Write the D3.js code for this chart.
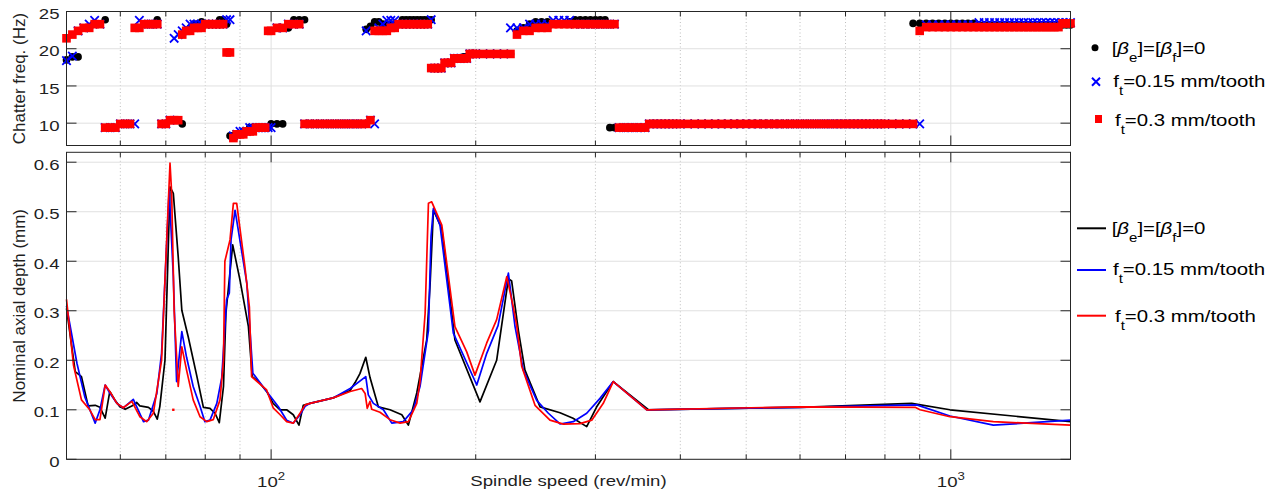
<!DOCTYPE html>
<html>
<head>
<meta charset="utf-8">
<script src="https://cdn.jsdelivr.net/npm/d3@7"></script>
<style>
  body { margin: 0; background: #fff; }
  svg { display: block; font-family: 'Liberation Sans', Arial, sans-serif; }
  .frame .tick line { stroke: #262626; }
  .grid .tick line { stroke: #e0e0e0; }
  .grid.minor .tick line { stroke: #bdbdbd; stroke-dasharray: 1 2.5; }
</style>
</head>
<body>
<div id="root"></div>
<script>
// spindle speed grid (rev/min) for the chatter frequency plot
const speeds = [
  50, 51, 52, 53, 54, 55, 56, 57, 58, 59,
  60, 61, 62, 63, 64, 65, 66, 67, 68, 69,
  70, 71, 72, 73, 74, 75, 76, 77, 78, 79,
  80, 81, 82, 83, 84, 85, 86, 87, 88, 89,
  90, 91, 92, 93, 94, 95, 96, 97, 98, 99,
  100, 102, 104, 106, 108, 110, 112, 114, 116, 118,
  120, 122, 124, 126, 128, 130, 132, 134, 136, 138,
  140, 142, 144, 146, 148, 150, 152, 154, 156, 158,
  160, 162, 164, 166, 168, 170, 172, 174, 176, 178,
  180, 182, 184, 186, 188, 190, 192, 194, 196, 198,
  200, 205, 210, 215, 220, 225, 230, 235, 240, 245,
  250, 255, 260, 265, 270, 275, 280, 285, 290, 295,
  300, 305, 310, 315, 320, 325, 330, 335, 340, 345,
  350, 355, 360, 365, 370, 375, 380, 385, 390, 395,
  400, 410, 420, 430, 440, 450, 460, 470, 480, 490,
  500, 510, 520, 530, 540, 550, 560, 570, 580, 590,
  600, 610, 620, 630, 640, 650, 660, 670, 680, 690,
  700, 710, 720, 730, 740, 750, 760, 770, 780, 790,
  800, 820, 840, 860, 880, 900, 920, 940, 960, 980,
  1000, 1020, 1040, 1060, 1080, 1100, 1120, 1140, 1160, 1180,
  1200, 1220, 1240, 1260, 1280, 1300, 1320, 1340, 1360, 1380,
  1400, 1420, 1440, 1460, 1480, 1500,
];

// chatter frequency (Hz), [βe]=[βf]=0
const freqZero = [
  18.5, 18.9, 18.9, 22.8, 22.8, 23.3, 23.3, 23.9, 9.4, 9.4,
  9.9, 9.9, 9.9, 22.8, 22.8, 23.3, 23.3, 23.3, 23.9, 9.9,
  9.9, 10.4, 10.4, 10.4, 9.9, 22.4, 22.8, 23.3, 23.3, 23.6,
  23.3, 23.3, 23.3, 23.3, 23.9, 23.9, 23.3, 8.3, 8.3, 8.5,
  8.5, 8.9, 8.9, 9.4, 9.4, 9.4, 9.4, 9.4, 9.4, 9.4,
  9.9, 9.9, 9.9, 22.8, 23.9, 23.9, 23.9, 9.9, 9.9, 9.9,
  9.9, 9.9, 9.9, 9.9, 9.9, 9.9, 9.9, 9.9, 9.9, 22.6,
  23.0, 23.6, 23.6, 23.3, 23.3, 23.3, 23.3, 23.3, 23.9, 23.9,
  23.9, 23.9, 23.9, 23.9, 23.9, 23.9, 23.9, 17.4, 17.4, 17.4,
  18.1, 18.1, 18.1, 18.7, 18.7, 18.7, 18.9, 18.9, 19.3, 19.3,
  19.3, 19.3, 19.3, 19.3, 19.3, 19.3, 22.4, 22.8, 23.3, 23.6,
  23.6, 23.6, 23.3, 23.3, 23.3, 23.6, 23.9, 23.9, 23.9, 23.9,
  23.9, 23.9, 23.9, 9.4, 9.4, 9.4, 9.4, 9.4, 9.4, 9.4,
  9.4, 9.4, 9.9, 9.9, 9.9, 9.9, 9.9, 9.9, 9.9, 9.9,
  9.9, 9.9, 9.9, 9.9, 9.9, 9.9, 9.9, 9.9, 9.9, 9.9,
  9.9, 9.9, 9.9, 9.9, 9.9, 9.9, 9.9, 9.9, 9.9, 9.9,
  9.9, 9.9, 9.9, 9.9, 9.9, 9.9, 9.9, 9.9, 9.9, 9.9,
  9.9, 9.9, 9.9, 9.9, 9.9, 9.9, 9.9, 9.9, 9.9, 9.9,
  9.9, 9.9, 9.9, 9.9, 23.4, 23.4, 23.4, 23.4, 23.4, 23.4,
  23.4, 23.4, 23.4, 23.4, 23.4, 23.2, 23.2, 23.2, 23.2, 23.2,
  23.2, 23.2, 23.2, 23.2, 23.2, 23.2, 23.2, 23.2, 23.2, 23.2,
  23.2, 23.2, 23.2, 23.2, 23.2, 23.2,
];

// chatter frequency (Hz), ft=0.15 mm/tooth
const freqFt015 = [
  18.4, 19.0, 22.4, 22.8, 23.3, 23.8, 23.3, 9.4, 9.4, 9.4,
  9.9, 9.9, 9.9, 9.9, 23.8, 23.3, 23.3, 23.3, 23.3, 9.9,
  9.9, 10.4, 21.4, 21.9, 22.4, 22.8, 23.3, 23.3, 23.3, 23.3,
  23.3, 23.3, 23.3, 23.3, 23.3, 23.3, 23.9, 23.9, 8.3, 8.5,
  8.9, 8.9, 8.9, 9.4, 9.4, 9.4, 9.4, 9.4, 9.4, 9.4,
  9.4, 22.8, 22.8, 23.3, 23.3, 23.3, 9.9, 9.9, 9.9, 9.9,
  9.9, 9.9, 9.9, 9.9, 9.9, 9.9, 9.9, 9.9, 9.9, 22.4,
  10.4, 9.9, 22.8, 23.3, 23.8, 23.8, 23.8, 23.3, 23.3, 23.3,
  23.3, 23.3, 23.3, 23.3, 23.3, 23.3, 23.9, 17.4, 17.4, 17.4,
  18.1, 18.1, 18.1, 18.7, 18.7, 18.7, 18.7, 18.7, 19.3, 19.3,
  19.3, 19.3, 19.3, 19.3, 19.3, 22.8, 22.8, 22.8, 23.3, 23.3,
  23.3, 23.3, 23.8, 23.8, 23.8, 23.8, 23.3, 23.3, 23.3, 23.3,
  23.3, 23.3, 23.3, 23.3, 23.3, 9.4, 9.4, 9.4, 9.4, 9.4,
  9.4, 9.4, 9.9, 9.9, 9.9, 9.9, 9.9, 9.9, 9.9, 9.9,
  9.9, 9.9, 9.9, 9.9, 9.9, 9.9, 9.9, 9.9, 9.9, 9.9,
  9.9, 9.9, 9.9, 9.9, 9.9, 9.9, 9.9, 9.9, 9.9, 9.9,
  9.9, 9.9, 9.9, 9.9, 9.9, 9.9, 9.9, 9.9, 9.9, 9.9,
  9.9, 9.9, 9.9, 9.9, 9.9, 9.9, 9.9, 9.9, 9.9, 9.9,
  9.9, 9.9, 9.9, 9.9, 9.9, 9.9, 23.2, 23.2, 23.2, 23.2,
  23.2, 23.2, 23.2, 23.2, 23.2, 23.5, 23.5, 23.5, 23.5, 23.5,
  23.5, 23.5, 23.5, 23.5, 23.5, 23.5, 23.5, 23.5, 23.5, 23.5,
  23.5, 23.5, 23.5, 23.5, 23.5, 23.5,
];

// chatter frequency (Hz), ft=0.3 mm/tooth
const freqFt03 = [
  21.4, 21.9, 22.4, 22.8, 22.8, 23.3, 23.3, 9.4, 9.4, 9.4,
  9.9, 9.9, 9.9, 22.8, 22.8, 23.3, 23.3, 23.3, 23.3, 9.9,
  9.9, 10.4, 10.4, 10.4, 21.9, 22.4, 22.4, 22.8, 22.8, 22.8,
  23.3, 23.3, 23.3, 23.3, 23.3, 23.3, 19.5, 19.5, 8.0, 8.5,
  8.5, 8.5, 8.9, 8.9, 8.9, 9.4, 9.4, 9.4, 9.4, 22.4,
  22.4, 22.8, 22.8, 23.3, 23.3, 23.3, 9.9, 9.9, 9.9, 9.9,
  9.9, 9.9, 9.9, 9.9, 9.9, 9.9, 9.9, 9.9, 9.9, 9.9,
  10.4, 22.4, 22.4, 22.4, 22.4, 22.8, 22.8, 23.3, 23.3, 23.3,
  23.3, 23.3, 23.3, 23.3, 23.3, 23.3, 17.4, 17.4, 17.4, 17.4,
  18.1, 18.1, 18.1, 18.7, 18.7, 18.7, 18.7, 18.7, 19.3, 19.3,
  19.3, 19.3, 19.3, 19.3, 19.3, 19.3, 21.9, 22.4, 22.4, 22.8,
  22.8, 22.8, 23.3, 23.3, 23.3, 23.3, 23.3, 23.3, 23.3, 23.3,
  23.3, 23.3, 23.3, 23.3, 23.3, 9.4, 9.4, 9.4, 9.4, 9.4,
  9.4, 9.4, 9.9, 9.9, 9.9, 9.9, 9.9, 9.9, 9.9, 9.9,
  9.9, 9.9, 9.9, 9.9, 9.9, 9.9, 9.9, 9.9, 9.9, 9.9,
  9.9, 9.9, 9.9, 9.9, 9.9, 9.9, 9.9, 9.9, 9.9, 9.9,
  9.9, 9.9, 9.9, 9.9, 9.9, 9.9, 9.9, 9.9, 9.9, 9.9,
  9.9, 9.9, 9.9, 9.9, 9.9, 9.9, 9.9, 9.9, 9.9, 9.9,
  9.9, 9.9, 9.9, 9.9, 9.9, 22.4, 22.9, 22.9, 22.9, 22.9,
  22.9, 22.9, 22.9, 22.9, 22.9, 22.9, 22.9, 22.9, 22.9, 22.9,
  22.9, 22.9, 22.9, 22.9, 22.9, 22.9, 22.9, 22.9, 22.9, 22.9,
  22.9, 22.9, 22.9, 23.4, 23.4, 23.4,
];

// nominal axial depth (mm): [speed, depth]
const depthZero = [
  [50, 0.305], [51.5, 0.177], [52.6, 0.167], [53.8, 0.108], [55.1, 0.109], [56.0, 0.105],
  [57.0, 0.083], [57.9, 0.137], [58.9, 0.12], [59.9, 0.106], [61.0, 0.101], [62.7, 0.109],
  [63.4, 0.115], [64.1, 0.108], [66.0, 0.105], [67.1, 0.097], [68.0, 0.081], [68.6, 0.107],
  [69.8, 0.2], [71.0, 0.55], [71.8, 0.537], [73.0, 0.409], [73.9, 0.301], [75.5, 0.248],
  [77.7, 0.17], [79.5, 0.105], [81.3, 0.103], [82.7, 0.093], [83.9, 0.074], [85.1, 0.147],
  [85.8, 0.295], [87.8, 0.433], [90.0, 0.362], [92.6, 0.268], [93.8, 0.167], [95.8, 0.157],
  [98.5, 0.137], [100.7, 0.113], [103.1, 0.1], [105.4, 0.1], [107.8, 0.09], [109.9, 0.069],
  [111.5, 0.109], [114.1, 0.113], [123.4, 0.124], [130.7, 0.139], [132.9, 0.155], [135.1, 0.173],
  [137.8, 0.206], [139.8, 0.165], [143.8, 0.106], [149.6, 0.1], [155.7, 0.09], [159.2, 0.069],
  [163.8, 0.134], [169.4, 0.241], [171.4, 0.356], [173.3, 0.503], [178.3, 0.466], [186.4, 0.241],
  [202.9, 0.116], [214.7, 0.2], [223.4, 0.365], [225.9, 0.36], [231.1, 0.26], [236.3, 0.18],
  [248.7, 0.106], [266.1, 0.094], [278.1, 0.083], [291.3, 0.066], [301.3, 0.106], [318.7, 0.157],
  [359, 0.1], [600, 0.105], [876, 0.113], [997, 0.1], [1500, 0.076],
];

const depthFt015 = [
  [50, 0.31], [51.8, 0.194], [53.2, 0.126], [55.1, 0.073], [56.0, 0.1], [57.0, 0.15],
  [57.9, 0.134], [59.3, 0.113], [60.6, 0.104], [62.7, 0.121], [64.9, 0.076], [66.0, 0.079],
  [67.9, 0.133], [69.0, 0.214], [70.8, 0.545], [71.8, 0.369], [72.6, 0.157], [73.9, 0.258],
  [75.1, 0.206], [76.8, 0.147], [78.6, 0.107], [79.9, 0.076], [81.3, 0.079], [83.2, 0.113],
  [84.6, 0.165], [86.0, 0.322], [86.8, 0.336], [87.3, 0.443], [88.5, 0.503], [92.1, 0.356],
  [94.0, 0.174], [98.5, 0.137], [102.5, 0.106], [105.4, 0.079], [107.8, 0.073], [110.3, 0.09],
  [112.2, 0.107], [114.1, 0.113], [123.4, 0.124], [130.7, 0.143], [137.8, 0.167], [139.0, 0.13],
  [141.4, 0.113], [146.3, 0.1], [150.5, 0.073], [156.5, 0.076], [161.9, 0.1], [165.6, 0.147],
  [170.4, 0.26], [171.9, 0.45], [173.3, 0.507], [177.2, 0.473], [185.4, 0.255], [200.7, 0.15],
  [207.6, 0.214], [215.7, 0.27], [223.4, 0.376], [228.5, 0.268], [235.0, 0.18], [245.9, 0.119],
  [255.8, 0.093], [266.1, 0.0713], [278.3, 0.076], [291.3, 0.093], [304.7, 0.123], [318.7, 0.157],
  [357, 0.1], [600, 0.105], [891, 0.11], [997, 0.0875], [1155, 0.069], [1500, 0.079],
];

const depthFt03 = [
  [50, 0.323], [51.2, 0.19], [52.6, 0.12], [54.1, 0.1], [55.1, 0.08], [56.0, 0.08],
  [57.0, 0.15], [57.9, 0.137], [59.3, 0.113], [60.6, 0.104], [62.4, 0.117], [64.1, 0.086],
  [65.6, 0.076], [67.1, 0.093], [69.0, 0.2], [69.8, 0.362], [71.0, 0.598], [71.4, 0.537],
  [72.0, 0.3], [73.0, 0.147], [73.9, 0.227], [75.1, 0.18], [76.8, 0.12], [78.6, 0.086],
  [80.4, 0.076], [82.2, 0.08], [84.1, 0.12], [85.1, 0.2], [85.5, 0.4], [87.0, 0.443],
  [88.0, 0.517], [89.0, 0.517], [91.5, 0.389], [92.9, 0.308], [93.6, 0.167], [98.5, 0.14],
  [100.7, 0.104], [103.1, 0.09], [105.4, 0.076], [107.8, 0.073], [110.3, 0.093], [112.2, 0.11],
  [114.1, 0.113], [123.4, 0.124], [130.7, 0.137], [135.9, 0.143], [137.5, 0.133], [138.5, 0.103],
  [139.8, 0.117], [140.6, 0.101], [144.6, 0.095], [149.6, 0.08], [154.8, 0.073], [159.2, 0.076],
  [163.8, 0.113], [165.6, 0.157], [168.5, 0.295], [170.4, 0.517], [172.3, 0.52], [178.3, 0.473],
  [186.4, 0.268], [194.0, 0.217], [199.5, 0.17], [207.6, 0.235], [214.7, 0.282], [222.2, 0.369],
  [227.1, 0.308], [229.8, 0.27], [233.7, 0.188], [244.5, 0.109], [257.2, 0.079], [269.1, 0.071],
  [284.8, 0.072], [296.3, 0.079], [308.1, 0.113], [318.7, 0.157], [357, 0.1], [600, 0.106],
  [886, 0.105], [901, 0.1], [997, 0.086], [1155, 0.076], [1500, 0.069],
];
const depthFt03Stray = [[71.8, 0.1]];

const freqTicks = [10, 15, 20, 25];
const depthTicks = [0, 0.1, 0.2, 0.3, 0.4, 0.5, 0.6];
const majorSpeedTicks = [100, 1000];
const minorSpeedTicks = [60, 70, 80, 90, 200, 300, 400, 500, 600, 700, 800, 900];
const speedTickLabels = [['10', '2'], ['10', '3']];
const legendLabels = [
  [['[', ''], ['β', 'i'], ['e', 's'], [']=[', ''], ['β', 'i'], ['f', 's'], [']=0', '']],
  [['f', ''], ['t', 's'], ['=0.15 mm/tooth', '']],
  [['f', ''], ['t', 's'], ['=0.3 mm/tooth', '']],
];
const colors = ['#000000', '#0000ff', '#ff0000'];

const width = 1277;
const height = 494;
const plot = { left: 66.5, right: 1070.5 };
const topPanel = { top: 11.5, bottom: 145.5 };
const bottomPanel = { top: 152.3, bottom: 459.3 };
const SX = 1.2; // glyphs in the figure are wider than Liberation Sans
const inkColor = '#1f1f1f';

const svg = d3.select('#root').append('svg')
  .attr('width', width)
  .attr('height', height);

const x = d3.scaleLog().domain([50, 1500]).range([plot.left, plot.right]);
const yFreq = d3.scaleLinear().domain([7, 25]).range([topPanel.bottom, topPanel.top]);
const yDepth = d3.scaleLinear().domain([0, 0.62]).range([bottomPanel.bottom, bottomPanel.top]);

function hText(parent, px, py, anchor, size) {
  return parent.append('text')
    .attr('transform', `translate(${px},${py}) scale(${SX},1)`)
    .attr('text-anchor', anchor)
    .attr('font-size', size)
    .attr('fill', inkColor);
}

function noDomain(g) { g.select('.domain').remove(); }

function drawGrid(panel, yScale, yTicks) {
  const h = panel.bottom - panel.top;
  svg.append('g').attr('class', 'grid minor')
    .attr('transform', `translate(0,${panel.bottom})`)
    .call(d3.axisBottom(x).tickValues(minorSpeedTicks).tickSize(-h).tickFormat('').offset(0))
    .call(noDomain);
  svg.append('g').attr('class', 'grid')
    .attr('transform', `translate(0,${panel.bottom})`)
    .call(d3.axisBottom(x).tickValues(majorSpeedTicks).tickSize(-h).tickFormat('').offset(0))
    .call(noDomain);
  svg.append('g').attr('class', 'grid')
    .attr('transform', `translate(${plot.left},0)`)
    .call(d3.axisLeft(yScale).tickValues(yTicks).tickSize(-(plot.right - plot.left)).tickFormat('').offset(0))
    .call(noDomain);
}

function drawFrame(panel, yScale, yTicks) {
  const frame = svg.append('g').attr('class', 'frame');
  frame.append('rect')
    .attr('x', plot.left)
    .attr('y', panel.top)
    .attr('width', plot.right - plot.left)
    .attr('height', panel.bottom - panel.top)
    .attr('fill', 'none')
    .attr('stroke', '#262626');
  [[minorSpeedTicks, 5], [majorSpeedTicks, 10]].forEach(([vals, len]) => {
    frame.append('g').attr('transform', `translate(0,${panel.bottom})`)
      .call(d3.axisBottom(x).tickValues(vals).tickSize(-len).tickFormat('').offset(0))
      .call(noDomain);
    frame.append('g').attr('transform', `translate(0,${panel.top})`)
      .call(d3.axisTop(x).tickValues(vals).tickSize(-len).tickFormat('').offset(0))
      .call(noDomain);
  });
  frame.append('g').attr('transform', `translate(${plot.left},0)`)
    .call(d3.axisLeft(yScale).tickValues(yTicks).tickSize(-10).tickFormat('').offset(0))
    .call(noDomain);
  frame.append('g').attr('transform', `translate(${plot.right},0)`)
    .call(d3.axisRight(yScale).tickValues(yTicks).tickSize(-10).tickFormat('').offset(0))
    .call(noDomain);
  yTicks.forEach(v => {
    hText(svg, 59.5, yScale(v) + 7.6, 'end', 15.5).text(String(v));
  });
}

function richText(textSel, parts) {
  let down = false;
  parts.forEach(([t, kind]) => {
    const span = textSel.append('tspan').text(t);
    if (kind === 's') {
      span.attr('font-size', 12.5).attr('dy', 8);
      down = true;
    } else {
      if (down) span.attr('dy', -8);
      down = false;
      if (kind === 'i') span.attr('font-style', 'italic');
    }
  });
}

// ---------- top panel: chatter frequency ----------
drawGrid(topPanel, yFreq, freqTicks);

svg.append('g')
  .selectAll('circle')
  .data(d3.zip(speeds, freqZero))
  .join('circle')
  .attr('cx', d => x(d[0]))
  .attr('cy', d => yFreq(d[1]))
  .attr('r', 3.8)
  .attr('fill', colors[0]);

const crossPath = 'M-4.2,-4.2L4.2,4.2M-4.2,4.2L4.2,-4.2';
svg.append('g')
  .selectAll('path')
  .data(d3.zip(speeds, freqFt015))
  .join('path')
  .attr('d', crossPath)
  .attr('transform', d => `translate(${x(d[0])},${yFreq(d[1])})`)
  .attr('stroke', colors[1])
  .attr('stroke-width', 1.8)
  .attr('fill', 'none');

const sq = 8.6;
svg.append('g')
  .selectAll('rect')
  .data(d3.zip(speeds, freqFt03))
  .join('rect')
  .attr('x', d => x(d[0]) - sq / 2)
  .attr('y', d => yFreq(d[1]) - sq / 2)
  .attr('width', sq)
  .attr('height', sq)
  .attr('fill', colors[2]);

drawFrame(topPanel, yFreq, freqTicks);

// ---------- bottom panel: nominal axial depth ----------
drawGrid(bottomPanel, yDepth, depthTicks);

const line = d3.line().x(d => x(d[0])).y(d => yDepth(d[1]));
[depthZero, depthFt015, depthFt03].forEach((series, i) => {
  svg.append('path')
    .datum(series)
    .attr('d', line)
    .attr('fill', 'none')
    .attr('stroke', colors[i])
    .attr('stroke-width', 1.7)
    .attr('stroke-linejoin', 'round');
});
svg.append('g')
  .selectAll('rect')
  .data(depthFt03Stray)
  .join('rect')
  .attr('x', d => x(d[0]) - 1.2)
  .attr('y', d => yDepth(d[1]) - 1.2)
  .attr('width', 2.4)
  .attr('height', 2.4)
  .attr('fill', colors[2]);

drawFrame(bottomPanel, yDepth, depthTicks);

// ---------- x tick labels and axis titles ----------
majorSpeedTicks.forEach((v, i) => {
  const t = hText(svg, x(v), 486.5, 'middle', 15.5);
  t.append('tspan').text(speedTickLabels[i][0]);
  t.append('tspan').attr('dy', -7).attr('font-size', 11).text(speedTickLabels[i][1]);
});

hText(svg, (plot.left + plot.right) / 2, 486, 'middle', 15.5).text('Spindle speed (rev/min)');

svg.append('text')
  .attr('transform', `translate(24.5,${(topPanel.top + topPanel.bottom) / 2}) rotate(-90)`)
  .attr('text-anchor', 'middle')
  .attr('font-size', 17)
  .attr('fill', inkColor)
  .text('Chatter freq. (Hz)');

svg.append('text')
  .attr('transform', `translate(24.5,${(bottomPanel.top + bottomPanel.bottom) / 2}) rotate(-90)`)
  .attr('text-anchor', 'middle')
  .attr('font-size', 17)
  .attr('fill', inkColor)
  .text('Nominal axial depth (mm)');

// ---------- legends ----------
const topLegend = svg.append('g');
topLegend.append('circle').attr('cx', 1095).attr('cy', 47.7).attr('r', 3.5).attr('fill', colors[0]);
topLegend.append('path').attr('d', 'M-4,-4L4,4M-4,4L4,-4')
  .attr('transform', 'translate(1096,81.7)')
  .attr('stroke', colors[1]).attr('stroke-width', 2).attr('fill', 'none');
topLegend.append('rect').attr('x', 1095).attr('y', 115).attr('width', 7).attr('height', 8).attr('fill', colors[2]);
[[1111.7, 54], [1113.3, 87.3], [1115, 126]].forEach(([tx, ty], i) => {
  richText(hText(topLegend, tx, ty, 'start', 17).attr('fill', '#000'), legendLabels[i]);
});

const bottomLegend = svg.append('g');
[[228.3, 1111.7, 234], [270, 1113, 275], [315.7, 1115, 321.7]].forEach(([ly, tx, ty], i) => {
  bottomLegend.append('line')
    .attr('x1', 1077).attr('x2', 1106).attr('y1', ly).attr('y2', ly)
    .attr('stroke', colors[i]).attr('stroke-width', 2);
  richText(hText(bottomLegend, tx, ty, 'start', 17).attr('fill', '#000'), legendLabels[i]);
});
</script>
</body>
</html>
